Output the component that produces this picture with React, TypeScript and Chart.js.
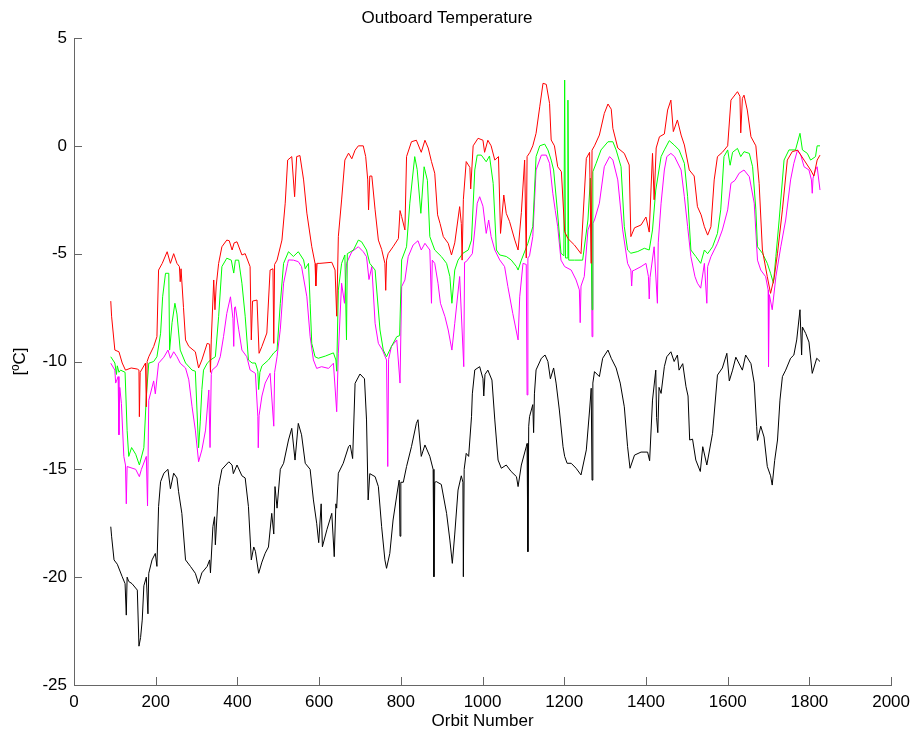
import React, { useEffect, useRef } from "react";
import { Chart, registerables } from "chart.js";

Chart.register(...registerables);

// [orbit number, temperature °C]
const redSeries: [number, number][] = [
  [90, -7.2], [92, -7.9], [100, -9.47], [110, -9.55], [118, -10.07], [126, -10.4], [140, -10.3], [155, -10.35],
  [159, -10.4], [160, -12.56], [162, -10.5], [175, -10.07], [177, -12.1], [179, -10.0], [183, -9.78], [195, -9.31],
  [203, -8.85], [207, -5.76], [216, -5.45], [228, -4.91], [236, -5.45], [244, -5.0], [252, -5.45], [258, -5.6],
  [260, -6.3], [262, -5.7], [268, -7.5], [273, -9.0], [281, -9.3], [297, -9.55], [305, -10.3], [313, -9.93],
  [326, -9.16], [332, -9.2], [334, -10.5], [336, -9.0], [342, -6.22], [345, -7.6], [348, -6.5], [354, -5.45],
  [362, -4.68], [374, -4.37], [380, -4.4], [387, -4.83], [392, -4.5], [399, -4.45], [411, -5.06], [419, -5.0],
  [431, -5.6], [434, -9.0], [437, -7.2], [448, -7.15], [453, -9.62], [460, -9.3], [472, -8.68], [480, -5.76],
  [487, -5.7], [489, -9.16], [491, -5.5], [497, -5.3], [509, -4.37], [517, -2.66], [523, -0.66], [533, -0.5],
  [540, -2.36], [545, -0.5], [553, -0.45], [562, -1.58], [570, -3.12], [582, -4.68], [590, -5.45], [592, -6.5],
  [595, -5.45], [602, -5.45], [631, -5.4], [639, -5.76], [643, -7.9], [647, -4.21], [655, -2.51], [663, -0.66],
  [672, -0.34], [680, -0.6], [688, -0.2], [696, 0.0], [708, 0.0], [714, -0.5], [719, -1.58], [721, -2.97],
  [724, -1.4], [729, -1.4], [737, -2.97], [745, -4.37], [753, -4.8], [761, -5.45], [763, -6.7], [765, -5.3],
  [769, -5.0], [781, -4.68], [794, -4.3], [798, -3.0], [802, -3.28], [810, -3.9], [814, -0.5], [826, 0.19],
  [838, 0.26], [850, -0.3], [859, 0.26], [867, -0.1], [875, -0.73], [883, -1.27], [890, -3.2], [896, -3.6],
  [904, -4.21], [916, -4.52], [924, -5.06], [932, -4.5], [944, -2.82], [948, -3.6], [950, -5.3], [953, -2.5],
  [960, -0.73], [969, -1.0], [971, -2.0], [977, 0.0], [989, 0.35], [1001, 0.26], [1005, -0.3], [1013, 0.26],
  [1021, 0.0], [1030, -0.66], [1039, -0.5], [1044, -4.06], [1052, -2.28], [1058, -3.13], [1066, -3.5], [1079, -4.37],
  [1087, -4.83], [1095, -3.1], [1103, -0.66], [1107, -5.2], [1109, -0.5], [1116, -0.3], [1123, 0.0], [1131, 0.58],
  [1140, 1.81], [1148, 2.9], [1156, 2.85], [1164, 1.97], [1168, 0.27], [1176, 0.0], [1184, -0.97], [1193, -1.2],
  [1201, -3.98], [1209, -4.3], [1225, -4.6], [1241, -5.0], [1254, -0.58], [1262, -0.3], [1266, -5.45], [1268, -0.2],
  [1274, 0.0], [1286, 0.5], [1298, 1.5], [1307, 1.94], [1315, 1.7], [1319, 0.81], [1331, -0.1], [1347, -0.35],
  [1359, -0.89], [1363, -4.21], [1372, -3.8], [1388, -3.67], [1400, -3.3], [1408, -4.0], [1416, -0.35], [1420, -2.5],
  [1425, -0.1], [1433, 0.42], [1445, 0.55], [1453, 1.66], [1461, 2.12], [1467, 0.66], [1477, 1.2], [1486, 0.5],
  [1494, 0.04], [1506, -1.12], [1518, -1.4], [1526, -2.82], [1535, -3.2], [1543, -3.75], [1551, -4.14], [1559, -3.75],
  [1567, -1.58], [1575, -0.5], [1587, -0.3], [1600, 0.0], [1608, 2.12], [1624, 2.51], [1630, 2.3], [1632, 0.6],
  [1636, 2.2], [1640, 2.35], [1648, 1.66], [1657, 0.42], [1669, 0.0], [1677, -1.74], [1685, -4.83], [1697, -6.07],
  [1705, -6.84], [1714, -6.1], [1722, -4.98], [1734, -2.97], [1746, -0.66], [1758, -0.27], [1771, -0.2], [1787, -0.66],
  [1803, -1.12], [1811, -1.4], [1819, -0.66], [1826, -0.43],
];

const greenSeries: [number, number][] = [
  [90, -9.78], [100, -10.07], [104, -10.6], [106, -10.2], [110, -10.5], [114, -10.4], [125, -10.5], [130, -13.2],
  [134, -14.4], [141, -13.99], [151, -14.3], [160, -14.8], [171, -14.0], [177, -11.63], [183, -10.08], [195, -10.0],
  [203, -9.78], [212, -8.69], [217, -7.0], [224, -5.91], [232, -5.91], [234, -9.47], [240, -8.2], [247, -7.3],
  [252, -7.8], [260, -9.47], [273, -10.07], [289, -10.4], [297, -10.45], [301, -12.25], [305, -14.0], [309, -12.8],
  [313, -11.3], [317, -10.4], [326, -10.08], [334, -9.93], [346, -9.78], [354, -7.92], [362, -5.6], [374, -5.21],
  [385, -5.3], [391, -5.9], [395, -5.3], [403, -5.3], [411, -6.37], [419, -7.9], [427, -9.93], [436, -10.07],
  [444, -10.07], [450, -10.45], [452, -11.3], [455, -10.5], [460, -10.2], [476, -9.93], [489, -9.6], [497, -9.47],
  [505, -7.3], [513, -5.45], [525, -4.91], [537, -5.13], [549, -4.91], [562, -5.29], [566, -5.7], [574, -5.45],
  [578, -7.3], [582, -9.16], [590, -9.78], [598, -9.85], [615, -9.75], [635, -9.6], [641, -9.93], [643, -10.45],
  [647, -6.69], [655, -5.45], [663, -5.06], [667, -9.0], [669, -5.0], [684, -4.83], [696, -4.37], [704, -4.45],
  [716, -4.83], [724, -5.45], [737, -5.76], [749, -8.54], [757, -9.47], [765, -9.78], [777, -9.3], [790, -8.85],
  [797, -8.8], [802, -5.29], [814, -4.68], [822, -2.66], [834, -0.5], [840, -1.1], [849, -3.13], [857, -0.97],
  [865, -1.6], [871, -4.21], [883, -4.83], [899, -5.13], [912, -5.45], [920, -6.06], [925, -7.3], [932, -5.76],
  [940, -5.3], [952, -4.98], [965, -4.83], [973, -4.37], [981, -1.12], [987, -0.43], [997, -0.43], [1009, -0.74],
  [1017, -0.47], [1026, -1.74], [1034, -4.83], [1042, -5.06], [1058, -5.13], [1070, -5.29], [1083, -5.6], [1087, -5.76],
  [1095, -5.3], [1111, -4.52], [1123, -3.75], [1131, -0.5], [1140, 0.0], [1152, 0.08], [1160, -0.19], [1168, -0.66],
  [1174, -1.12], [1183, -2.97], [1192, -4.98], [1199, -5.1], [1201, 3.05], [1203, -5.2], [1207, -5.2], [1209, 2.12],
  [1211, -5.3], [1225, -5.3], [1245, -5.3], [1258, -3.44], [1264, -1.5], [1268, -7.6], [1270, -1.2], [1278, -0.81],
  [1290, -0.19], [1307, 0.19], [1319, 0.19], [1327, -0.19], [1339, -0.97], [1347, -3.75], [1355, -4.83], [1363, -4.98],
  [1380, -4.9], [1396, -4.75], [1408, -4.83], [1416, -3.9], [1424, -2.05], [1437, -0.5], [1445, -0.19], [1457, 0.24],
  [1469, 0.04], [1481, -0.19], [1494, -0.81], [1502, -2.36], [1510, -4.83], [1522, -5.13], [1534, -5.45], [1543, -4.83],
  [1551, -5.0], [1563, -4.68], [1575, -4.06], [1583, -2.97], [1591, -0.5], [1600, -0.19], [1606, -0.9], [1612, -0.3],
  [1624, -0.12], [1632, -0.5], [1640, -0.27], [1653, -0.35], [1661, -0.97], [1669, -2.97], [1673, -4.68], [1685, -4.98],
  [1697, -5.45], [1705, -5.91], [1712, -6.37], [1718, -5.13], [1726, -3.44], [1738, -0.66], [1750, -0.19], [1766, -0.19],
  [1777, 0.58], [1783, -0.19], [1795, -0.35], [1803, -0.66], [1815, -0.5], [1819, 0.0], [1826, 0.0],
];

const magentaSeries: [number, number][] = [
  [90, -10.08], [100, -10.4], [102, -11.0], [108, -10.7], [110, -13.4], [112, -11.2], [116, -11.94], [122, -14.4],
  [126, -14.8], [128, -16.6], [130, -14.87], [151, -15.0], [160, -15.34], [165, -15.0], [177, -14.4], [180, -16.7],
  [183, -11.8], [195, -10.9], [199, -11.5], [207, -10.08], [220, -9.8], [230, -9.47], [236, -9.85], [244, -9.55],
  [252, -9.78], [260, -10.08], [273, -10.3], [281, -10.85], [289, -12.1], [297, -13.18], [305, -14.65], [313, -14.1],
  [322, -13.18], [330, -11.32], [333, -13.99], [336, -10.6], [338, -10.4], [350, -10.2], [358, -9.78], [366, -8.85],
  [374, -7.77], [383, -7.0], [389, -8.0], [391, -9.3], [393, -7.5], [395, -7.46], [403, -8.5], [411, -9.47],
  [423, -9.78], [431, -10.39], [444, -10.55], [450, -12.56], [451, -14.0], [453, -12.5], [460, -11.6], [468, -11.0],
  [480, -10.55], [489, -13.0], [491, -10.5], [497, -9.78], [505, -8.5], [513, -6.37], [523, -5.45], [525, -5.29],
  [537, -5.3], [549, -5.37], [557, -5.6], [570, -7.0], [578, -8.85], [586, -9.93], [594, -10.32], [606, -10.24],
  [623, -10.32], [635, -10.08], [643, -12.33], [647, -9.62], [655, -6.37], [662, -7.3], [667, -5.45], [680, -4.91],
  [696, -4.68], [708, -4.91], [716, -5.14], [722, -6.2], [729, -5.6], [737, -8.23], [745, -9.16], [755, -9.47],
  [765, -9.93], [768, -14.87], [770, -9.9], [777, -9.3], [790, -9.0], [798, -11.0], [802, -6.53], [810, -6.22],
  [818, -5.14], [830, -4.6], [842, -4.4], [850, -4.83], [859, -4.52], [871, -4.83], [875, -7.3], [877, -5.3],
  [883, -5.45], [891, -6.37], [897, -7.3], [908, -7.92], [916, -8.54], [925, -9.47], [932, -8.23], [944, -6.06],
  [954, -10.24], [956, -5.4], [960, -5.37], [975, -5.0], [981, -3.9], [987, -2.66], [993, -2.36], [1001, -2.8],
  [1009, -4.06], [1015, -3.44], [1021, -4.21], [1030, -4.83], [1042, -5.29], [1054, -5.6], [1062, -6.53], [1074, -7.77],
  [1087, -9.0], [1091, -7.0], [1099, -5.45], [1107, -5.5], [1109, -11.55], [1111, -5.2], [1115, -5.1], [1123, -4.21],
  [1131, -1.12], [1144, -0.43], [1156, -0.43], [1164, -0.81], [1172, -2.2], [1178, -3.0], [1184, -3.75], [1192, -5.3],
  [1201, -5.6], [1217, -5.76], [1229, -6.22], [1237, -6.68], [1239, -8.2], [1241, -6.5], [1249, -6.06], [1258, -3.9],
  [1266, -3.5], [1268, -8.85], [1270, -3.6], [1274, -3.44], [1286, -2.66], [1298, -0.97], [1311, -0.5], [1319, -0.66],
  [1331, -1.58], [1343, -3.9], [1355, -5.45], [1363, -5.76], [1365, -6.5], [1367, -5.8], [1372, -5.76], [1388, -5.6],
  [1400, -5.45], [1406, -6.06], [1408, -7.1], [1410, -6.1], [1420, -4.68], [1428, -7.3], [1430, -4.5], [1437, -2.66],
  [1445, -1.12], [1451, -0.5], [1461, -0.35], [1470, -0.5], [1486, -1.12], [1494, -2.36], [1502, -3.75], [1510, -5.14],
  [1520, -6.07], [1526, -6.37], [1534, -6.6], [1543, -5.45], [1549, -7.3], [1551, -5.6], [1559, -5.14], [1575, -4.52],
  [1587, -3.9], [1600, -2.97], [1608, -1.74], [1618, -1.6], [1628, -1.27], [1640, -1.12], [1653, -1.43], [1665, -2.66],
  [1673, -5.3], [1681, -5.76], [1693, -6.07], [1699, -6.68], [1700, -10.24], [1702, -6.9], [1709, -7.6], [1718, -6.07],
  [1730, -4.68], [1742, -3.44], [1754, -1.58], [1762, -0.81], [1771, -0.19], [1779, -0.43], [1787, -0.97], [1799, -1.12],
  [1805, -1.58], [1807, -2.2], [1809, -1.5], [1815, -1.12], [1819, -0.97], [1826, -2.05],
];

const blackSeries: [number, number][] = [
  [90, -17.66], [92, -18.1], [98, -19.2], [106, -19.4], [118, -19.98], [125, -20.3], [128, -21.76], [130, -20.0],
  [134, -20.2], [142, -20.3], [155, -20.6], [159, -23.2], [163, -22.8], [167, -21.99], [171, -20.4], [177, -20.0],
  [181, -21.7], [183, -19.82], [191, -19.2], [199, -18.9], [203, -19.5], [207, -16.73], [212, -15.57], [220, -15.18],
  [230, -15.0], [236, -15.9], [244, -15.18], [252, -15.4], [256, -16.04], [264, -17.04], [273, -19.2], [285, -19.5],
  [297, -19.82], [305, -20.3], [313, -19.8], [326, -19.5], [332, -19.2], [334, -19.8], [340, -17.66], [344, -17.2],
  [346, -18.5], [354, -15.8], [362, -15.0], [379, -14.65], [387, -14.8], [390, -15.2], [399, -14.8], [411, -15.3],
  [419, -15.4], [427, -16.73], [434, -19.2], [440, -18.6], [444, -18.8], [452, -19.82], [460, -19.3], [468, -18.89],
  [476, -18.6], [484, -17.04], [489, -18.0], [492, -15.8], [497, -16.8], [505, -15.0], [513, -14.72], [525, -13.64],
  [533, -13.1], [541, -14.57], [549, -12.87], [557, -13.4], [566, -14.72], [578, -15.0], [586, -16.42], [594, -17.5],
  [599, -18.4], [605, -16.6], [608, -18.59], [619, -17.8], [631, -17.04], [637, -19.05], [641, -16.6], [643, -16.8],
  [647, -15.18], [659, -14.72], [672, -13.95], [676, -13.87], [682, -14.5], [688, -11.01], [700, -10.58], [711, -10.8],
  [716, -12.71], [720, -16.42], [724, -15.2], [737, -15.34], [745, -15.8], [753, -17.66], [761, -19.2], [765, -19.59],
  [773, -18.9], [781, -17.35], [792, -15.96], [796, -15.5], [798, -18.1], [800, -15.6], [806, -15.6], [814, -14.87],
  [826, -13.95], [838, -12.87], [842, -12.7], [850, -14.4], [859, -13.87], [871, -14.4], [879, -15.0], [881, -19.98],
  [883, -15.6], [887, -15.57], [899, -15.7], [912, -17.04], [920, -18.28], [926, -19.36], [932, -18.0], [940, -15.96],
  [948, -15.3], [952, -15.6], [953, -19.98], [955, -15.0], [960, -14.26], [966, -14.4], [973, -12.56], [975, -11.5],
  [981, -10.39], [993, -10.24], [1001, -10.8], [1003, -11.6], [1006, -10.6], [1013, -10.4], [1023, -10.86], [1030, -12.71],
  [1038, -14.57], [1046, -14.95], [1058, -14.8], [1070, -15.1], [1083, -15.34], [1087, -15.8], [1095, -14.8], [1107, -13.95],
  [1109, -13.8], [1111, -18.82], [1113, -13.0], [1115, -12.56], [1123, -12.0], [1125, -13.3], [1127, -11.5], [1131, -10.39],
  [1144, -9.85], [1153, -9.7], [1160, -10.0], [1166, -10.8], [1174, -10.3], [1180, -11.0], [1188, -12.25], [1197, -13.95],
  [1201, -14.4], [1207, -14.72], [1217, -14.72], [1229, -14.95], [1241, -15.26], [1254, -14.1], [1262, -12.25], [1266, -11.24],
  [1268, -15.5], [1270, -11.0], [1274, -10.47], [1286, -10.7], [1294, -9.85], [1307, -9.47], [1315, -9.85], [1327, -10.3],
  [1337, -11.0], [1347, -12.1], [1355, -13.95], [1361, -14.95], [1372, -14.34], [1388, -14.2], [1404, -14.2], [1409, -14.6],
  [1416, -11.79], [1424, -10.4], [1426, -12.6], [1429, -13.3], [1432, -11.2], [1437, -11.48], [1445, -10.24], [1451, -9.78],
  [1461, -9.55], [1469, -10.0], [1477, -9.7], [1481, -10.4], [1490, -10.1], [1498, -11.17], [1503, -11.6], [1507, -13.64],
  [1514, -13.6], [1522, -14.57], [1533, -15.1], [1539, -13.95], [1549, -14.8], [1563, -13.33], [1575, -10.63], [1587, -10.3],
  [1598, -9.62], [1604, -10.9], [1612, -10.4], [1620, -9.8], [1636, -10.4], [1644, -9.7], [1657, -10.1], [1665, -11.0],
  [1671, -13.02], [1673, -13.66], [1681, -13.0], [1689, -13.5], [1697, -14.87], [1705, -15.3], [1709, -15.73], [1715, -14.6],
  [1722, -13.64], [1728, -11.79], [1734, -10.7], [1742, -10.4], [1754, -9.85], [1762, -9.7], [1769, -9.0], [1777, -7.6],
  [1781, -9.7], [1783, -8.4], [1791, -8.7], [1799, -9.1], [1807, -10.55], [1818, -9.85], [1826, -10.0],
];

const xTickValues = [0, 200, 400, 600, 800, 1000, 1200, 1400, 1600, 1800, 2000];
const yTickValues = [-25, -20, -15, -10, -5, 0, 5];

const titleText = "Outboard Temperature";
const xTitle = "Orbit Number";
const yTitle = "[ºC]";

const FONT = "'Liberation Sans', Arial, Helvetica, sans-serif";
const AXIS_COLOR = "#666666";

const inwardTicks = {
  id: "inwardTicks",
  afterDraw(chart: any) {
    const { ctx, chartArea, scales } = chart;
    ctx.save();
    ctx.strokeStyle = AXIS_COLOR;
    ctx.lineWidth = 1;
    ctx.beginPath();
    for (const v of xTickValues) {
      const px = Math.round(scales.x.getPixelForValue(v)) + 0.5;
      ctx.moveTo(px, chartArea.bottom);
      ctx.lineTo(px, chartArea.bottom - 8);
    }
    for (const v of yTickValues) {
      const py = Math.round(scales.y.getPixelForValue(v)) + 0.5;
      ctx.moveTo(chartArea.left, py);
      ctx.lineTo(chartArea.left + 8, py);
    }
    ctx.stroke();
    ctx.restore();
  },
};

function toPoints(s: [number, number][]) {
  return s.map(([x, y]) => ({ x, y }));
}

export default function App() {
  const ref = useRef<HTMLCanvasElement | null>(null);

  useEffect(() => {
    if (!ref.current) return;
    const font = { family: FONT, size: 17, weight: "normal" as const };
    const mk = (data: [number, number][], color: string) => ({
      data: toPoints(data),
      borderColor: color,
      backgroundColor: color,
      borderWidth: 1,
      pointRadius: 0,
      tension: 0,
      fill: false,
    });
    const chart = new Chart(ref.current, {
      type: "line",
      data: {
        datasets: [
          mk(redSeries, "#ff0000"),
          mk(greenSeries, "#00ff00"),
          mk(magentaSeries, "#ff00ff"),
          mk(blackSeries, "#000000"),
        ],
      },
      options: {
        animation: false,
        responsive: false,
        devicePixelRatio: 1,
        layout: { padding: { left: 0, right: 23, top: 0, bottom: 0 } },
        plugins: {
          legend: { display: false },
          tooltip: { enabled: false },
          title: {
            display: true,
            text: titleText,
            color: "#000",
            font: { family: FONT, size: 17, weight: "normal" },
            padding: { top: 8, bottom: 9.6 },
          },
        },
        scales: {
          x: {
            type: "linear",
            min: 0,
            max: 2000,
            afterBuildTicks: (s: any) => {
              s.ticks = xTickValues.map((v) => ({ value: v }));
            },
            ticks: {
              color: "#000",
              font,
              padding: 7,
              maxRotation: 0,
              autoSkip: false,
              callback: (v: any) => String(v),
            },
            grid: { drawOnChartArea: false, drawTicks: false },
            border: { display: true, color: AXIS_COLOR },
            title: {
              display: true,
              text: xTitle,
              color: "#000",
              font,
              padding: { top: 0, bottom: 4 },
            },
            afterFit: (s: any) => {
              s.height = 51;
            },
          },
          y: {
            type: "linear",
            min: -25,
            max: 5,
            afterBuildTicks: (s: any) => {
              s.ticks = yTickValues.map((v) => ({ value: v }));
            },
            ticks: {
              color: "#000",
              font,
              padding: 7,
              autoSkip: false,
              callback: (v: any) => String(v),
            },
            grid: { drawOnChartArea: false, drawTicks: false },
            border: { display: true, color: AXIS_COLOR },
            title: {
              display: true,
              text: yTitle,
              color: "#000",
              font,
              padding: { top: 10, bottom: 0 },
            },
            afterFit: (s: any) => {
              s.width = 74;
            },
          },
        },
      } as any,
      plugins: [inwardTicks],
    });
    return () => chart.destroy();
  }, []);

  return (
    <div style={{ position: "fixed", left: 0, top: 0, width: 917, height: 736, background: "#fff" }}>
      <canvas ref={ref} width={917} height={736} style={{ width: 917, height: 736, display: "block" }} />
    </div>
  );
}
